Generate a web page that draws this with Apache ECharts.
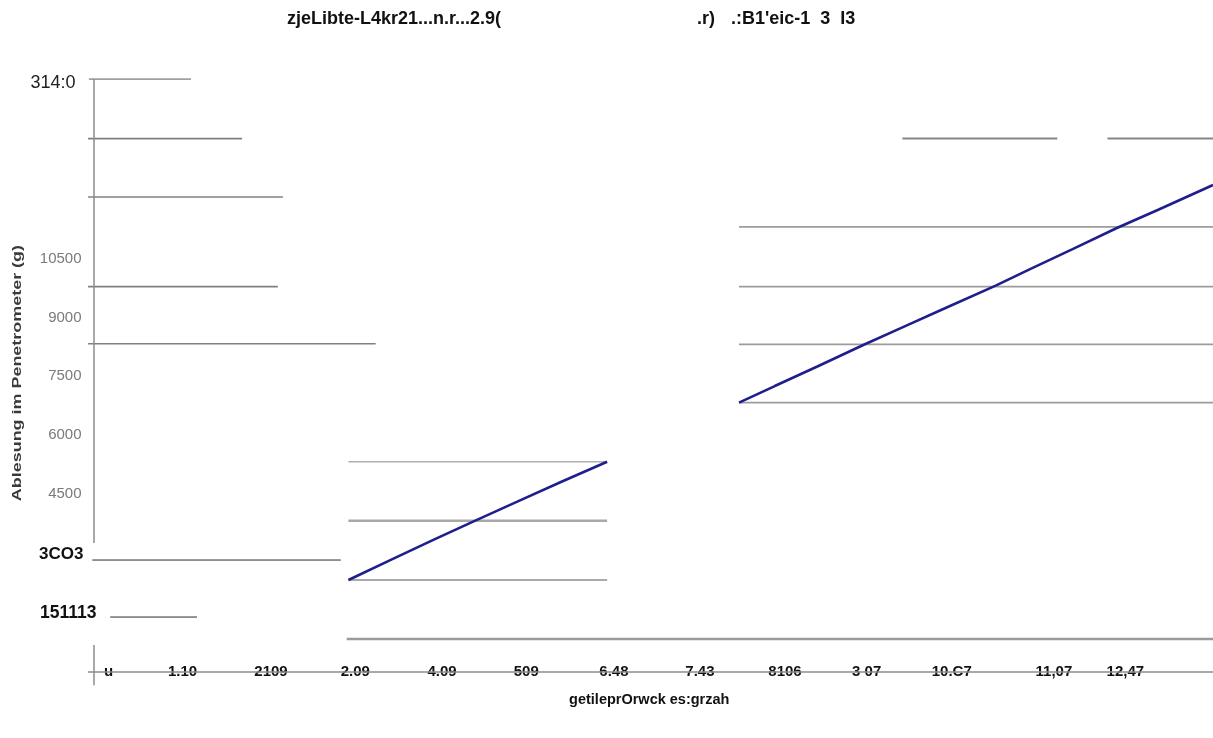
<!DOCTYPE html>
<html>
<head>
<meta charset="utf-8">
<script src="https://cdn.jsdelivr.net/npm/echarts@6/dist/echarts.min.js"></script>
<style>html,body{margin:0;padding:0;background:#fff}#c{width:1213px;height:738px}</style>
</head>
<body>
<div id="c"></div>
<script>
// ---- data ----
const xTickValues = [0.17, 1.04, 2.08, 3.07, 4.09, 5.08, 6.11, 7.12, 8.12, 9.08, 10.08, 11.28, 12.12];
const xTickLabels = ['u', '1.10', '2109', '2.09', '4.09', '509', '6.48', '7.43', '8106', '3 07', '10.C7', '11,07', '12,47'];
const yTickValues = [15000, 10500, 9000, 7500, 6000, 4500, 2950, 1450];
const yTickLabels = ['314:0', '10500', '9000', '7500', '6000', '4500', '3CO3', '151113'];

// horizontal reference segments: level, start, end (axis units)
const leftLevels = [15100, 13575, 12085, 9791, 8333];
const leftStarts = [-0.06, -0.07, -0.07, -0.07, -0.07];
const leftEnds = [1.14, 1.74, 2.22, 2.16, 3.31];
const labelLevels = [2802, 1345];
const labelStarts = [-0.02, 0.19];
const labelEnds = [2.90, 1.21];
const midLevels = [5316, 3807, 2291, 782];
const midStarts = [2.99, 2.99, 2.99, 2.97];
const midEnds = [6.03, 6.03, 6.03, 13.15];
const rightLevels = [13580, 13580, 11317, 9791, 8318, 6825];
const rightStarts = [9.50, 11.91, 7.58, 7.58, 7.58, 7.58];
const rightEnds = [11.32, 13.15, 13.15, 13.15, 13.15, 13.15];

// reading series
const run1X = [2.99, 3.5, 4.0, 4.5, 5.0, 5.5, 6.03];
const run1Y = [2291, 2820, 3330, 3830, 4320, 4810, 5316];
const run2X = [7.58, 8.0, 8.5, 9.04, 9.5, 10.0, 10.59, 11.0, 11.5, 12.02, 12.5, 13.15];
const run2Y = [6825, 7250, 7750, 8300, 8750, 9240, 9810, 10240, 10750, 11290, 11750, 12391];

// axis line pieces
const yAxisPieces = [[15100, 3237], [630, -400]];
const xAxisLevel = -60;
const xAxisStart = -0.07, xAxisEnd = 13.15;

// ---- build ----
const series = [];
function seg(level, x0, x1, color, width) {
  series.push({
    type: 'line', silent: true, symbol: 'none', animation: false,
    data: [[x0, level], [x1, level]],
    lineStyle: { color: color, width: width }
  });
}
const midWidths = [1.5, 2.5, 2, 2.5];
const midColors = ['#b0b0b0', '#a8a8a8', '#aaaaaa', '#9a9a9a'];
leftLevels.forEach((l, i) => seg(l, leftStarts[i], leftEnds[i], '#808080', 1.6));
labelLevels.forEach((l, i) => seg(l, labelStarts[i], labelEnds[i], '#2a2a2a', 1));
midLevels.forEach((l, i) => seg(l, midStarts[i], midEnds[i], midColors[i], midWidths[i]));
rightLevels.forEach((l, i) => seg(l, rightStarts[i], rightEnds[i], i < 2 ? '#858585' : '#9c9c9c', i < 2 ? 2 : 1.8));
seg(xAxisLevel, xAxisStart, xAxisEnd, '#8c8c8c', 1.5);
yAxisPieces.forEach(p => series.push({
  type: 'line', silent: true, symbol: 'none', animation: false,
  data: [[0, p[0]], [0, p[1]]],
  lineStyle: { color: '#8c8c8c', width: 1.5 }
}));
[[run1X, run1Y], [run2X, run2Y]].forEach(r => series.push({
  type: 'line', symbol: 'none', animation: false,
  data: r[0].map((x, i) => [x, r[1][i]]),
  lineStyle: { color: '#1f1f8c', width: 2.6 }
}));

const titleStyle = { fontFamily: 'Liberation Sans Narrow, Arial Narrow, Liberation Sans', fontWeight: 'bold', fontSize: 18, color: '#111' };
const chart = echarts.init(document.getElementById('c'));
chart.setOption({
  animation: false,
  backgroundColor: '#fff',
  title: [
    { text: 'zjeLibte-L4kr21...n.r...2.9(', left: 287, top: 10, padding: 0, textStyle: titleStyle },
    { text: '.r)', left: 697, top: 10, padding: 0, textStyle: titleStyle },
    { text: ".:B1'eic-1  3  I3", left: 731, top: 10, padding: 0, textStyle: titleStyle }
  ],
  grid: { left: 85.5, right: 0, top: 79, bottom: 48.8, containLabel: false },
  xAxis: {
    type: 'value', min: -0.1, max: 13.15,
    axisLine: { show: false }, axisTick: { show: false }, splitLine: { show: false },
    axisLabel: {
      customValues: xTickValues,
      margin: -25,
      fontFamily: 'Liberation Sans, Arial', fontWeight: 'bold', fontSize: 15, color: '#111',
      formatter: function (v) {
        let best = 0, d = 1e9;
        xTickValues.forEach((t, i) => { if (Math.abs(t - v) < d) { d = Math.abs(t - v); best = i; } });
        return xTickLabels[best];
      }
    },
    name: 'getileprOrwck es:grzah', nameLocation: 'middle', nameGap: 3,
    nameTextStyle: { fontFamily: 'Liberation Sans, Arial', fontWeight: 'bold', fontSize: 14.5, color: '#111', verticalAlign: 'top' }
  },
  yAxis: {
    type: 'value', min: -500, max: 15100,
    axisLine: { show: false }, axisTick: { show: false }, splitLine: { show: false },
    axisLabel: {
      customValues: yTickValues,
      margin: -12,
      formatter: function (v) {
        let best = 0, d = 1e9;
        yTickValues.forEach((t, i) => { if (Math.abs(t - v) < d) { d = Math.abs(t - v); best = i; } });
        const style = best === 0 ? 'top' : (best >= 6 ? ('b' + best) : 'g');
        return '{' + style + '|' + yTickLabels[best] + '}';
      },
      rich: {
        top: { fontFamily: 'Liberation Sans, Arial', fontSize: 18, color: '#222', padding: [0, 22, 0, 0] },
        g: { fontFamily: 'Liberation Sans, Arial', fontSize: 15, color: '#7a7a7a', padding: [0, 16, 0, 0] },
        b6: { fontFamily: 'Liberation Sans, Arial', fontWeight: 'bold', fontSize: 17, color: '#111', padding: [0, 14, 0, 0] },
        b7: { fontFamily: 'Liberation Sans, Arial', fontWeight: 'bold', fontSize: 17.5, color: '#111', padding: [0, 1, 0, 0] }
      }
    }
  },
  graphic: [{
    type: 'text', x: 11, y: 245, rotation: Math.PI / 2, scaleX: 1.38,
    style: { text: 'Ablesung im Penetrometer (g)', fontFamily: 'Liberation Sans, Arial', fontWeight: 'bold', fontSize: 13, fill: '#3a3a3a', align: 'right', verticalAlign: 'top' }
  }],
  series: series
});
</script>
</body>
</html>
